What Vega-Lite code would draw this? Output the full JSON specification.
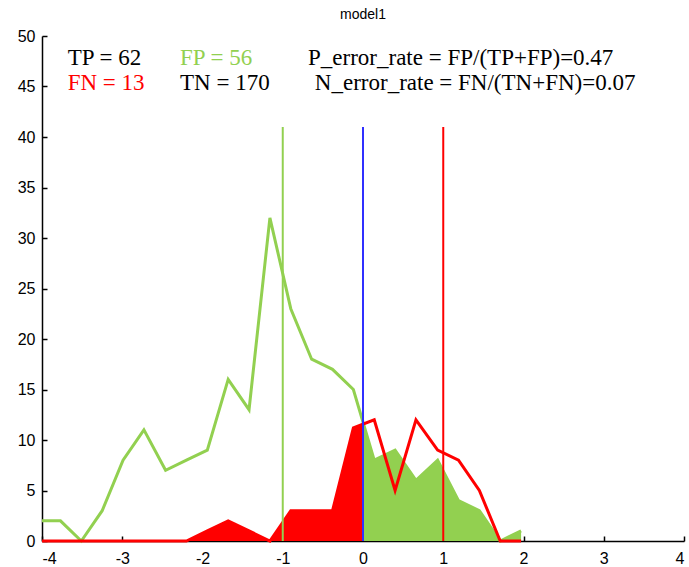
{
  "$schema": "https://vega.github.io/schema/vega-lite/v6.json",
  "width": 642,
  "height": 505,
  "autosize": "none",
  "padding": {"left": 42, "top": 36, "right": 5, "bottom": 26},
  "background": "white",
  "title": {"text": "model1", "font": "Liberation Sans", "fontSize": 14, "fontWeight": "normal", "color": "black", "anchor": "middle", "offset": 6},
  "config": {
    "view": {"stroke": null},
    "axis": {"grid": false, "domainColor": "black", "domainWidth": 1.5, "tickColor": "black", "tickWidth": 1.5, "tickSize": -5, "labelColor": "black", "labelFont": "Liberation Sans", "labelFontSize": 16, "title": null, "labelExpr": "toString(datum.value)"}
  },
  "datasets": {
    "neg": [
      {"x": -4.0, "y": 2}, {"x": -3.77, "y": 2}, {"x": -3.51, "y": 0}, {"x": -3.25, "y": 3},
      {"x": -2.99, "y": 8}, {"x": -2.73, "y": 11}, {"x": -2.46, "y": 7}, {"x": -2.2, "y": 8},
      {"x": -1.94, "y": 9}, {"x": -1.68, "y": 16}, {"x": -1.42, "y": 13}, {"x": -1.16, "y": 32},
      {"x": -0.9, "y": 23}, {"x": -0.64, "y": 18}, {"x": -0.38, "y": 17}, {"x": -0.12, "y": 15},
      {"x": 0.14, "y": 8}, {"x": 0.4, "y": 9}, {"x": 0.66, "y": 6}, {"x": 0.93, "y": 8},
      {"x": 1.19, "y": 4}, {"x": 1.45, "y": 3}, {"x": 1.71, "y": 0}, {"x": 1.97, "y": 1}
    ],
    "negFP": [
      {"x": 0.0, "y": 11.8}, {"x": 0.14, "y": 8}, {"x": 0.4, "y": 9}, {"x": 0.66, "y": 6}, {"x": 0.93, "y": 8},
      {"x": 1.19, "y": 4}, {"x": 1.45, "y": 3}, {"x": 1.71, "y": 0}, {"x": 1.97, "y": 1}
    ],
    "pos": [
      {"x": -4.0, "y": 0}, {"x": -3.77, "y": 0}, {"x": -3.51, "y": 0}, {"x": -3.25, "y": 0},
      {"x": -2.99, "y": 0}, {"x": -2.73, "y": 0}, {"x": -2.46, "y": 0}, {"x": -2.2, "y": 0},
      {"x": -1.94, "y": 1}, {"x": -1.68, "y": 2}, {"x": -1.42, "y": 1}, {"x": -1.16, "y": 0},
      {"x": -0.9, "y": 3}, {"x": -0.64, "y": 3}, {"x": -0.38, "y": 3}, {"x": -0.12, "y": 11.2},
      {"x": 0.14, "y": 12}, {"x": 0.4, "y": 5}, {"x": 0.66, "y": 12}, {"x": 0.93, "y": 9},
      {"x": 1.19, "y": 8}, {"x": 1.45, "y": 5}, {"x": 1.71, "y": 0}, {"x": 1.97, "y": 0}
    ],
    "posFN": [
      {"x": -2.2, "y": 0}, {"x": -1.94, "y": 1}, {"x": -1.68, "y": 2}, {"x": -1.42, "y": 1}, {"x": -1.16, "y": 0},
      {"x": -0.9, "y": 3}, {"x": -0.64, "y": 3}, {"x": -0.38, "y": 3}, {"x": -0.12, "y": 11.2}, {"x": 0.0, "y": 11.6}
    ],
    "thresholds": [
      {"x": -1, "y": 0, "top": 41, "kind": "neg"},
      {"x": 0, "y": 0, "top": 41, "kind": "cut"},
      {"x": 1, "y": 0, "top": 41, "kind": "pos"}
    ],
    "notes": [
      {"x": -3.68, "y": 47.8, "label": "TP = 62", "kind": "text"},
      {"x": -2.28, "y": 47.8, "label": "FP = 56", "kind": "neg"},
      {"x": -0.685, "y": 47.8, "label": "P_error_rate = FP/(TP+FP)=0.47", "kind": "text"},
      {"x": -3.68, "y": 45.3, "label": "FN = 13", "kind": "pos"},
      {"x": -2.28, "y": 45.3, "label": "TN = 170", "kind": "text"},
      {"x": -0.6, "y": 45.3, "label": "N_error_rate = FN/(TN+FN)=0.07", "kind": "text"}
    ]
  },
  "encoding": {
    "x": {"field": "x", "type": "quantitative", "scale": {"domain": [-4, 4], "nice": false, "zero": false}, "axis": {"values": [-4, -3, -2, -1, 0, 1, 2, 3, 4], "labelPadding": 14}},
    "y": {"field": "y", "type": "quantitative", "scale": {"domain": [0, 50], "nice": false}, "axis": {"values": [0, 5, 10, 15, 20, 25, 30, 35, 40, 45, 50], "labelPadding": 12}}
  },
  "layer": [
    {"data": {"name": "negFP"}, "mark": {"type": "area", "color": "#92d050", "opacity": 1}},
    {"data": {"name": "posFN"}, "mark": {"type": "area", "color": "#ff0000", "opacity": 1}},
    {"data": {"name": "neg"}, "mark": {"type": "line", "color": "#92d050", "strokeWidth": 3}},
    {"data": {"name": "pos"}, "mark": {"type": "line", "color": "#ff0000", "strokeWidth": 3}},
    {"data": {"name": "thresholds"}, "mark": {"type": "rule", "strokeWidth": 2},
      "encoding": {
        "y2": {"field": "top"},
        "color": {"field": "kind", "type": "nominal", "scale": {"domain": ["neg", "cut", "pos", "text"], "range": ["#92d050", "#3030ff", "#ff0000", "#000000"]}, "legend": null}
      }},
    {"data": {"name": "notes"}, "mark": {"type": "text", "align": "left", "baseline": "middle", "font": "Liberation Serif", "fontSize": 23},
      "encoding": {
        "text": {"field": "label"},
        "color": {"field": "kind", "type": "nominal", "scale": {"domain": ["neg", "cut", "pos", "text"], "range": ["#92d050", "#3030ff", "#ff0000", "#000000"]}, "legend": null}
      }}
  ]
}
